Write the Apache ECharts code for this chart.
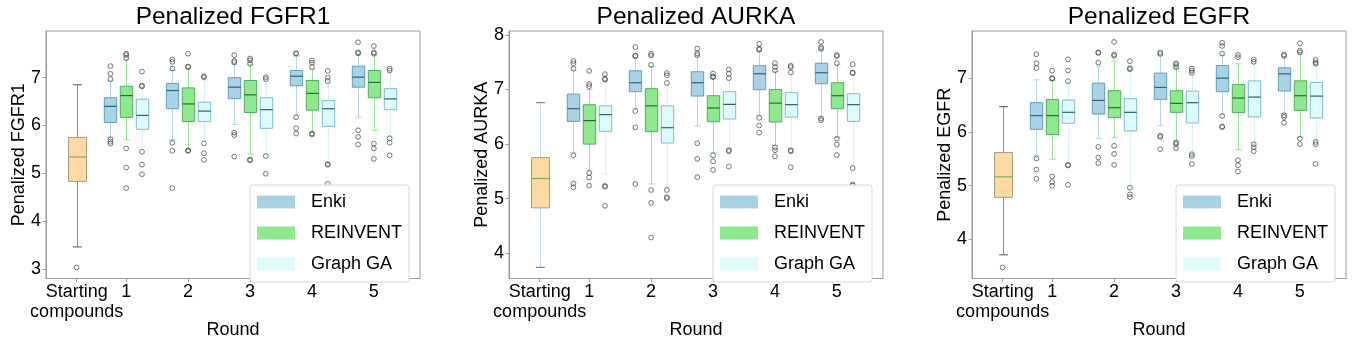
<!DOCTYPE html>
<html><head><meta charset="utf-8">
<script src="https://cdn.jsdelivr.net/npm/echarts@6/dist/echarts.min.js"></script>
<style>html,body{margin:0;padding:0;background:#fff}#c{width:1358px;height:348px}</style>
</head><body><div id="c"></div>
<script>
// ---------------- DATA ----------------
const xTickLabels = ['Starting\ncompounds', '1', '2', '3', '4', '5'];
const methods = ['Enki', 'REINVENT', 'Graph GA'];
const panelTitles = ['Penalized FGFR1', 'Penalized AURKA', 'Penalized EGFR'];
const xAxisName = 'Round';
const yTicksFGFR1 = [3, 4, 5, 6, 7];
const yTicksAURKA = [4, 5, 6, 7, 8];
const yTicksEGFR = [4, 5, 6, 7];

// each box: [low whisker, Q1, median, Q3, high whisker]
const fgfr1Start = [3.46, 4.83, 5.34, 5.75, 6.85];
const fgfr1StartOut = [3.03];
const fgfr1Enki = [[5.75, 6.06, 6.40, 6.58, 6.93], [5.70, 6.35, 6.73, 6.88, 7.15], [6.02, 6.56, 6.80, 7.00, 7.28], [6.22, 6.83, 7.03, 7.15, 7.45], [6.17, 6.80, 7.01, 7.24, 7.47]];
const fgfr1EnkiOut = [[7.24, 7.08, 6.97, 5.71, 5.66, 5.62], [7.38, 7.33, 7.19, 5.64, 5.47, 4.69], [7.47, 7.35, 7.32, 5.85, 5.80, 5.35], [7.51, 7.50, 6.17, 5.94, 5.83], [7.74, 7.53, 7.51, 5.90, 5.76, 5.60]];
const fgfr1Reinvent = [[5.70, 6.17, 6.625, 6.82, 7.38], [5.50, 6.08, 6.45, 6.785, 7.20], [5.40, 6.27, 6.64, 6.94, 7.27], [5.86, 6.32, 6.67, 6.94, 7.18], [5.90, 6.58, 6.90, 7.15, 7.47]];
const fgfr1ReinventOut = [[7.50, 7.47, 7.41, 5.52, 5.12, 4.69], [7.50, 7.23, 7.22, 5.48, 5.47], [7.40, 7.36, 7.29, 5.29, 5.27], [7.36, 7.31, 7.22, 5.83, 5.81], [7.66, 7.53, 7.50, 5.62, 5.52, 5.30]];
const fgfr1GraphGA = [[5.55, 5.92, 6.21, 6.55, 6.78], [5.68, 6.08, 6.30, 6.486, 6.95], [5.40, 5.94, 6.33, 6.58, 6.93], [5.25, 5.98, 6.35, 6.52, 6.90], [5.78, 6.33, 6.555, 6.77, 7.12]];
const fgfr1GraphGAOut = [[7.125, 6.83, 6.82, 5.45, 5.18, 4.98], [7.03, 7.01, 5.625, 5.42, 5.28], [7.01, 6.97, 5.36, 4.99], [7.14, 7.00, 6.93, 5.19, 5.18, 4.78], [7.19, 7.15, 5.73, 5.64, 5.375]];

const aurkaStart = [3.744, 4.833, 5.37, 5.753, 6.758];
const aurkaStartOut = [];
const aurkaEnki = [[5.85, 6.416, 6.648, 6.915, 7.35], [6.65, 6.959, 7.123, 7.342, 7.58], [6.33, 6.88, 7.123, 7.324, 7.60], [6.52, 6.995, 7.288, 7.434, 7.70], [6.50, 7.105, 7.306, 7.481, 7.72]];
const aurkaEnkiOut = [[7.52, 7.476, 7.38, 5.795, 5.28, 5.21], [7.774, 7.62, 7.61, 6.605, 6.307, 5.27], [7.75, 7.664, 7.63, 6.015, 5.73, 5.394], [7.835, 7.744, 7.726, 6.48, 6.34, 6.21], [7.87, 7.774, 7.744, 6.47, 6.435]];
const aurkaReinvent = [[5.52, 6.00, 6.43, 6.72, 7.00], [5.27, 6.228, 6.70, 7.014, 7.42], [5.85, 6.41, 6.66, 6.886, 7.20], [5.97, 6.404, 6.75, 7.00, 7.33], [6.12, 6.648, 6.886, 7.123, 7.45]];
const aurkaReinventOut = [[7.34, 7.10, 7.06, 5.47, 5.39, 5.24], [7.65, 7.62, 7.45, 5.16, 4.925, 4.29], [7.29, 7.24, 7.225, 5.795, 5.686, 5.527], [7.48, 7.41, 7.35, 5.936, 5.887, 5.777], [7.63, 7.61, 7.48, 6.10, 5.99, 5.80]];
const aurkaGraphGA = [[5.45, 6.234, 6.54, 6.70, 7.15], [5.20, 6.02, 6.30, 6.70, 7.08], [5.92, 6.459, 6.727, 6.959, 7.18], [5.92, 6.495, 6.722, 6.946, 7.28], [5.60, 6.416, 6.722, 6.922, 7.25]];
const aurkaGraphGAOut = [[7.28, 7.196, 7.18, 5.235, 5.22, 4.87], [7.30, 7.26, 7.12, 5.16, 5.03, 5.01], [7.366, 7.288, 7.207, 5.89, 5.868, 5.59], [7.434, 7.408, 7.311, 5.887, 5.868, 5.576], [7.463, 7.31, 7.30, 5.56, 5.26, 5.24]];

const egfrStart = [3.711, 4.781, 5.163, 5.616, 6.469];
const egfrStartOut = [3.475];
const egfrEnki = [[5.55, 6.048, 6.302, 6.543, 6.97], [5.875, 6.332, 6.586, 6.907, 7.22], [6.12, 6.605, 6.827, 7.093, 7.42], [6.33, 6.747, 7.00, 7.236, 7.42], [6.34, 6.76, 7.08, 7.192, 7.38]];
const egfrEnkiOut = [[7.445, 7.278, 7.186, 5.504, 5.30, 5.126], [7.48, 7.47, 7.29, 5.72, 5.523, 5.417], [7.48, 7.45, 5.93, 5.905, 5.677], [7.657, 7.60, 7.458, 6.295, 6.098, 6.09], [7.44, 7.415, 6.308, 6.277, 6.17]];
const egfrReinvent = [[5.49, 5.95, 6.302, 6.605, 6.96], [5.894, 6.265, 6.45, 6.766, 7.32], [5.83, 6.364, 6.53, 6.766, 7.18], [5.67, 6.358, 6.63, 6.883, 7.267], [5.90, 6.40, 6.673, 6.95, 7.45]];
const egfrReinventOut = [[7.14, 7.00, 6.99, 5.17, 5.065, 4.996], [7.675, 7.44, 7.415, 5.74, 5.59, 5.386], [7.278, 7.248, 7.204, 5.80, 5.77, 5.696], [7.434, 7.39, 5.473, 5.38, 5.263], [7.65, 7.514, 7.482, 5.875, 5.77]];
const egfrGraphGA = [[5.42, 6.16, 6.364, 6.592, 6.92], [5.00, 6.017, 6.364, 6.617, 7.14], [5.60, 6.165, 6.543, 6.76, 7.08], [5.80, 6.277, 6.648, 6.95, 7.28], [5.85, 6.258, 6.666, 6.92, 7.24]];
const egfrGraphGAOut = [[7.35, 7.143, 6.944, 5.386, 5.375, 5.015], [7.315, 7.186, 7.167, 4.96, 4.836, 4.786], [7.18, 7.143, 7.10, 5.584, 5.547, 5.40], [7.347, 7.304, 5.77, 5.714, 5.64], [7.34, 7.297, 7.267, 5.813, 5.77, 5.404]];

// ---------------- LAYOUT / STYLE ----------------
const FONT = '"Liberation Sans", Arial, sans-serif';
const layout = {
  gridLeft: [46, 509, 972], gridTop: 31, gridW: 374, gridH: 247.5,
  groupPos: [0.2, 1, 2, 3, 4, 5],
  offset: { 'Enki': -0.255, 'REINVENT': 0, 'Graph GA': 0.255 },
  boxW: 0.2, startW: 0.29,
  xMin: -0.295, xMax: 5.745,
  yRange: [[2.80, 7.975], [3.54, 8.07], [3.27, 7.878]],
  legendLeft: [250, 713, 1176], legendTop: 185
};
const methodStyle = {
  'Enki': { fill: '#a9d3e3', stroke: '#5f9fc2', median: '#2f6379', whisker: '#b3d9e8', cap: '#b3d9e8' },
  'REINVENT': { fill: '#8ee88e', stroke: '#4fae5b', median: '#2b6b3a', whisker: '#94e894', cap: '#94e894' },
  'Graph GA': { fill: '#ddfbfd', stroke: '#7bbbd5', median: '#2e6070', whisker: '#d4f3f7', cap: '#d4f3f7' }
};
const startStyles = [
  { fill: '#fdd9a3', stroke: '#aa9c80', median: '#7fb060', whisker: '#5f96c8', cap: '#4a5866' },
  { fill: '#fdd9a3', stroke: '#aa9c80', median: '#7fb060', whisker: '#c6dbea', cap: '#707070' },
  { fill: '#fdd9a3', stroke: '#aa9c80', median: '#7fb060', whisker: '#5f96c8', cap: '#4a5866' }
];

const panels = [
  { start: fgfr1Start, startOut: fgfr1StartOut, boxes: [fgfr1Enki, fgfr1Reinvent, fgfr1GraphGA], outs: [fgfr1EnkiOut, fgfr1ReinventOut, fgfr1GraphGAOut], yTicks: yTicksFGFR1 },
  { start: aurkaStart, startOut: aurkaStartOut, boxes: [aurkaEnki, aurkaReinvent, aurkaGraphGA], outs: [aurkaEnkiOut, aurkaReinventOut, aurkaGraphGAOut], yTicks: yTicksAURKA },
  { start: egfrStart, startOut: egfrStartOut, boxes: [egfrEnki, egfrReinvent, egfrGraphGA], outs: [egfrEnkiOut, egfrReinventOut, egfrGraphGAOut], yTicks: yTicksEGFR }
];

function makeRender(st, wUnits) {
  return function (params, api) {
    const x = api.value(0);
    const p = [1, 2, 3, 4, 5].map(d => api.coord([x, api.value(d)]));
    const cx = Math.round(p[0][0]) + 0.5;
    const w = api.size([wUnits, 0])[0];
    const cw = w / 2;
    const yLo = p[0][1], yQ1 = p[1][1], yMed = p[2][1], yQ3 = p[3][1], yHi = p[4][1];
    return {
      type: 'group', children: [
        { type: 'line', shape: { x1: cx, y1: yQ1, x2: cx, y2: yLo }, style: { stroke: st.whisker, lineWidth: 1 } },
        { type: 'line', shape: { x1: cx, y1: yQ3, x2: cx, y2: yHi }, style: { stroke: st.whisker, lineWidth: 1 } },
        { type: 'line', shape: { x1: cx - cw / 2, y1: yLo, x2: cx + cw / 2, y2: yLo }, style: { stroke: st.cap, lineWidth: 1 } },
        { type: 'line', shape: { x1: cx - cw / 2, y1: yHi, x2: cx + cw / 2, y2: yHi }, style: { stroke: st.cap, lineWidth: 1 } },
        { type: 'rect', shape: { x: cx - w / 2, y: yQ3, width: w, height: yQ1 - yQ3 }, style: { fill: st.fill, stroke: st.stroke, lineWidth: 1 } },
        { type: 'line', shape: { x1: cx - w / 2, y1: yMed, x2: cx + w / 2, y2: yMed }, style: { stroke: st.median, lineWidth: 1.2 } }
      ]
    };
  };
}

const grids = [], xAxes = [], yAxes = [], series = [], legends = [], graphics = [];
const labelFor = v => {
  const i = layout.groupPos.findIndex(q => Math.abs(q - v) < 1e-6);
  return i >= 0 ? xTickLabels[i] : '';
};
const labelText = { fontSize: 18, color: '#000', fontFamily: FONT };

panels.forEach((pn, i) => {
  grids.push({ left: layout.gridLeft[i], top: layout.gridTop, width: layout.gridW, height: layout.gridH,
    show: true, borderColor: '#9a9a9a', borderWidth: 1, backgroundColor: 'transparent', containLabel: false });
  // main x axis: ticks + round labels + axis name
  xAxes.push({
    type: 'value', gridIndex: i, min: layout.xMin, max: layout.xMax, position: 'bottom',
    splitLine: { show: false },
    axisLine: { show: true, onZero: false, lineStyle: { color: '#9a9a9a' } },
    axisTick: { show: true, customValues: layout.groupPos, length: 3.5, lineStyle: { color: '#9a9a9a' } },
    axisLabel: Object.assign({ customValues: layout.groupPos.slice(1), formatter: labelFor, hideOverlap: false, margin: 4, lineHeight: 20 }, labelText),
    name: xAxisName, nameLocation: 'middle', nameGap: 43, nameMoveOverlap: false,
    nameTextStyle: labelText
  });
  // companion x axis (same scale) carrying the two-line "Starting compounds" label
  xAxes.push({
    type: 'value', gridIndex: i, min: layout.xMin, max: layout.xMax, position: 'bottom', offset: 0,
    splitLine: { show: false }, axisLine: { show: false, onZero: false }, axisTick: { show: false },
    axisLabel: Object.assign({ customValues: layout.groupPos.slice(0, 1), formatter: labelFor, hideOverlap: false, margin: 4, lineHeight: 20 }, labelText)
  });
  yAxes.push({
    type: 'value', gridIndex: i, min: layout.yRange[i][0], max: layout.yRange[i][1],
    splitLine: { show: false },
    axisLine: { show: true, onZero: false, lineStyle: { color: '#9a9a9a' } },
    axisTick: { show: true, customValues: pn.yTicks, length: 3.5, lineStyle: { color: '#9a9a9a' } },
    axisLabel: Object.assign({ customValues: pn.yTicks, margin: 5 }, labelText),
    name: panelTitles[i], nameLocation: 'middle', nameGap: 18, nameMoveOverlap: false,
    nameTextStyle: labelText
  });
  const xi = i * 2;
  series.push({
    type: 'custom', name: 'Starting compounds', xAxisIndex: xi, yAxisIndex: i,
    renderItem: makeRender(startStyles[i], layout.startW),
    encode: { x: 0, y: [1, 2, 3, 4, 5] },
    itemStyle: { color: startStyles[i].fill },
    data: [[layout.groupPos[0], ...pn.start]], z: 2, silent: true
  });
  const outPts = pn.startOut.map(v => [layout.groupPos[0], v]);
  methods.forEach((m, k) => {
    const off = layout.offset[m];
    series.push({
      type: 'custom', name: m, xAxisIndex: xi, yAxisIndex: i,
      renderItem: makeRender(methodStyle[m], layout.boxW),
      encode: { x: 0, y: [1, 2, 3, 4, 5] },
      itemStyle: { color: methodStyle[m].fill },
      data: pn.boxes[k].map((b, r) => [layout.groupPos[r + 1] + off, ...b]), z: 2, silent: true
    });
    pn.outs[k].forEach((arr, r) => arr.forEach(v => outPts.push([layout.groupPos[r + 1] + off, v])));
  });
  series.push({
    type: 'scatter', name: 'outliers', xAxisIndex: xi, yAxisIndex: i, data: outPts,
    symbol: 'circle', symbolSize: 4.8, z: 3, silent: true,
    itemStyle: { color: 'rgba(0,0,0,0)', borderColor: '#444', borderWidth: 0.9 }
  });
  legends.push({
    data: methods, orient: 'vertical', left: layout.legendLeft[i], top: layout.legendTop,
    icon: 'rect', itemWidth: 38, itemHeight: 13, itemGap: 13, selectedMode: false,
    padding: [8, 7, 9, 7], backgroundColor: '#fff', borderColor: '#d8d8d8', borderWidth: 1, borderRadius: 3,
    itemStyle: { borderWidth: 0 },
    textStyle: { fontSize: 18, color: '#000', fontFamily: FONT, lineHeight: 13, padding: [0, 0, 0, 11] }
  });
  graphics.push({
    type: 'text', x: layout.gridLeft[i] + layout.gridW / 2, y: 5,
    style: { text: panelTitles[i], fontSize: 24.5, fontFamily: FONT, fill: '#000',
      align: 'center', textAlign: 'center', verticalAlign: 'top', textVerticalAlign: 'top' }
  });
});

const chart = echarts.init(document.getElementById('c'), null, { renderer: 'canvas' });
chart.setOption({
  animation: false, backgroundColor: '#fff',
  grid: grids, xAxis: xAxes, yAxis: yAxes, series: series, legend: legends, graphic: graphics
});
</script></body></html>
